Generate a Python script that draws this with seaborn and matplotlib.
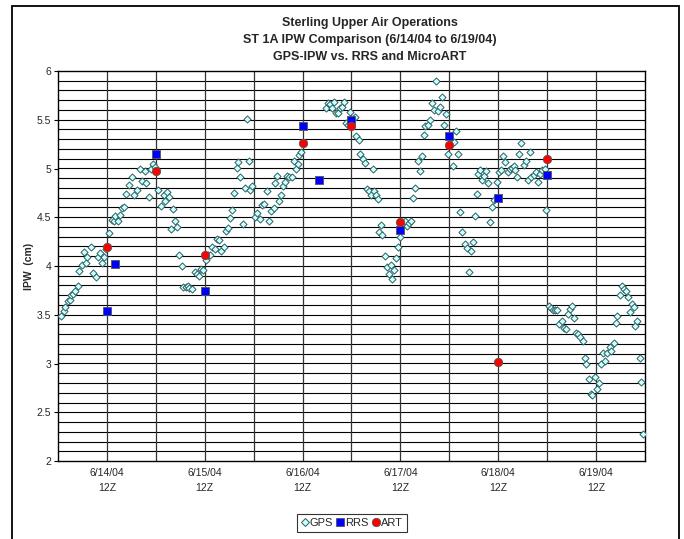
import matplotlib
matplotlib.use("Agg")
import matplotlib.pyplot as plt
import seaborn as sns
import pandas as pd
import numpy as np
from matplotlib.patches import Rectangle
from matplotlib.lines import Line2D

# ---------------- data ----------------
# hours after 6/14/04 00Z
gps_hours = [
    0.7, 1.4, 1.8, 2.4, 2.9, 3.3, 3.7, 4.2, 4.8, 5.2, 5.8, 6.3, 6.9, 7.2, 8.0, 8.7, 9.2, 9.7, 10.4, 10.8, 11.2, 11.8,
    12.6, 13.3, 13.8, 14.1, 14.7, 15.2, 15.7, 16.3, 16.8, 17.4, 18.1, 18.7, 19.4, 20.0, 20.7, 21.4, 21.7, 22.3, 22.7, 23.2, 23.8,
    24.5, 25.3, 25.9, 26.2, 26.8, 27.2, 27.7, 28.3, 28.8, 29.2, 29.8, 30.3, 30.7, 31.3, 31.8, 32.2, 32.9, 33.7, 34.1, 34.6, 35.2, 35.6,
    36.2, 36.7, 37.4, 37.9, 38.4, 39.0, 39.6, 40.1, 40.7, 41.1, 41.7, 42.2, 42.7, 43.2, 43.8, 44.2, 44.6, 45.3, 45.8, 46.4, 46.8, 47.2, 47.7,
    48.3, 48.8, 49.5, 50.0, 50.6, 51.2, 51.7, 52.3, 52.9, 53.3, 53.8, 54.3, 54.8, 55.3, 55.8, 56.2, 56.7, 57.3, 57.8, 58.3, 58.8, 59.2, 59.7, 60.2,
    65.8, 66.3, 66.8, 67.3, 67.8, 68.2, 68.7, 69.2, 69.7, 70.2, 70.7, 71.2, 71.7, 72.3, 72.8, 73.2, 73.8, 74.2, 74.7, 75.3, 75.8, 76.2, 76.8, 77.3, 77.6, 78.0, 78.4,
    78.8, 79.3, 79.6, 80.2, 80.7, 81.1, 81.6, 81.9, 82.4, 83.0, 83.5, 83.9, 84.6, 85.1, 85.6, 86.2, 86.7, 87.1, 87.7, 88.2,
    88.7, 89.3, 89.7, 90.1, 90.8, 91.2, 91.7, 92.3, 92.7, 93.2, 93.8, 94.3, 94.8, 95.2, 95.7, 96.2, 96.8, 97.2, 97.7, 98.2,
    98.7, 99.2, 99.8, 100.3, 100.8, 101.2, 101.7, 102.2, 102.7, 103.1, 103.6, 104.1, 104.5, 105.0, 105.4, 106.0, 106.5, 107.0, 107.6, 108.1,
    108.7, 109.2, 109.7, 110.3, 110.8, 111.3, 111.8, 112.2, 112.7, 113.2, 113.7, 114.2, 114.8, 115.2, 115.7, 116.1, 116.7, 117.2, 117.8, 118.3,
    118.8, 119.4, 119.8,
    120.5, 121.0, 121.5, 122.0, 122.5, 123.0, 123.6, 124.1, 124.6, 125.1, 125.7, 126.1, 126.6, 127.1, 127.6, 128.1, 128.7, 129.2, 129.6, 130.2,
    130.7, 131.1, 131.7, 132.2, 132.7, 133.2, 133.7, 134.2, 134.8, 135.3, 135.7, 136.3, 136.8, 137.2, 137.8, 138.3, 138.8, 139.3, 139.8, 140.2,
    140.7, 141.2, 141.6, 142.1, 142.7, 143.1, 143.6,
]
gps_ipw = [
    3.49, 3.54, 3.58, 3.64, 3.65, 3.70, 3.71, 3.74, 3.80, 3.95, 4.01, 4.14, 4.03, 4.09, 4.20, 3.93, 3.89, 4.09, 4.13, 4.03, 4.09, 4.17,
    4.34, 4.47, 4.46, 4.51, 4.46, 4.52, 4.60, 4.61, 4.74, 4.83, 4.91, 4.73, 4.78, 4.99, 4.87, 4.97, 4.85, 4.71, 5.00, 5.05, 5.02,
    4.78, 4.62, 4.73, 4.67, 4.76, 4.71, 4.38, 4.58, 4.46, 4.40, 4.11, 4.00, 3.78, 3.78, 3.80, 3.77, 3.76, 3.94, 3.92, 3.90, 3.97, 3.96,
    4.06, 4.11, 4.11, 4.20, 4.17, 4.28, 4.27, 4.15, 4.20, 4.36, 4.39, 4.49, 4.57, 4.75, 5.01, 5.07, 4.91, 4.43, 4.80, 5.51, 5.08, 4.78, 4.82,
    4.50, 4.54, 4.48, 4.63, 4.64, 4.77, 4.46, 4.56, 4.60, 4.85, 4.92, 4.67, 4.73, 4.82, 4.86, 4.92, 4.91, 4.91, 5.08, 4.99, 5.05, 5.14, 5.17, 5.25,
    5.62, 5.67, 5.66, 5.62, 5.68, 5.57, 5.57, 5.62, 5.63, 5.68, 5.47, 5.45, 5.58, 5.51, 5.53, 5.33, 5.29, 5.15, 5.10, 5.06, 4.79, 4.77, 4.73, 4.99, 4.77, 4.73, 4.69,
    4.35, 4.42, 4.32, 4.10, 3.99, 3.92, 4.01, 3.87, 3.96, 4.08, 4.19, 4.30, 4.44, 4.46, 4.41, 4.44, 4.46, 4.70, 4.80, 5.08,
    4.97, 5.13, 5.34, 5.44, 5.45, 5.50, 5.67, 5.60, 5.90, 5.59, 5.63, 5.73, 5.45, 5.56, 5.15, 5.26, 5.03, 5.27, 5.38, 5.15,
    4.55, 4.35, 4.23, 4.18, 3.94, 4.15, 4.25, 4.51, 4.74, 4.94, 4.98, 4.88, 4.92, 4.97, 4.85, 4.45, 4.61, 4.68, 4.86, 4.96,
    4.98, 5.13, 5.07, 4.96, 4.99, 5.01, 5.03, 4.98, 4.91, 5.15, 5.26, 5.04, 5.08, 4.88, 5.17, 4.91, 4.93, 4.96, 4.86, 4.94,
    4.98, 5.00, 4.57,
    3.59, 3.57, 3.55, 3.55, 3.55, 3.41, 3.44, 3.36, 3.35, 3.51, 3.56, 3.59, 3.47, 3.31, 3.30, 3.27, 3.23, 3.06, 2.99, 2.84,
    2.69, 2.68, 2.86, 2.74, 2.80, 3.00, 3.11, 3.03, 3.11, 3.17, 3.13, 3.21, 3.42, 3.49, 3.70, 3.79, 3.76, 3.74, 3.68, 3.53,
    3.61, 3.58, 3.38, 3.44, 3.06, 2.81, 2.28,
]
rrs_hours = [12, 14, 24, 36, 60, 64, 72, 84, 96, 108, 120]
rrs_ipw = [3.54, 4.02, 5.15, 3.74, 5.44, 4.88, 5.50, 4.37, 5.33, 4.70, 4.93]
art_hours = [12, 24, 36, 60, 72, 84, 96, 108, 120]
art_ipw = [4.20, 4.97, 4.11, 5.26, 5.44, 4.45, 5.24, 3.02, 5.10]

tick_hours = [12, 36, 60, 84, 108, 132]
tick_labels = ["6/14/04\n12Z", "6/15/04\n12Z", "6/16/04\n12Z", "6/17/04\n12Z", "6/18/04\n12Z", "6/19/04\n12Z"]
title_lines = ["Sterling Upper Air Operations",
               "ST 1A IPW Comparison (6/14/04 to 6/19/04)",
               "GPS-IPW vs. RRS and MicroART"]

gps = pd.DataFrame({"hours": gps_hours, "ipw": gps_ipw})
rrs = pd.DataFrame({"hours": rrs_hours, "ipw": rrs_ipw})
art = pd.DataFrame({"hours": art_hours, "ipw": art_ipw})

# ---------------- style ----------------
sns.set_style("white")
FAM = ["Liberation Sans Narrow", "Liberation Sans", "DejaVu Sans"]
plt.rcParams["font.family"] = FAM

W, H = 684, 539
fig = plt.figure(figsize=(W / 100, H / 100), dpi=100)
fig.patch.set_facecolor("white")

L, R, T, B = 58, 645, 71, 461
ax = fig.add_axes([L / W, 1 - B / H, (R - L) / W, (B - T) / H])
ax.set_facecolor("white")

# grid
for yv in np.arange(2.1, 6.0, 0.1):
    ax.axhline(yv, color="black", lw=0.8, zorder=1)
for xv in range(12, 144, 12):
    ax.axvline(xv, color="#333333", lw=0.9, zorder=1)

sns.scatterplot(data=gps, x="hours", y="ipw", ax=ax, marker="D", s=13,
                color="#CCFFFF", edgecolor="#2F5F5F", linewidth=0.7, zorder=3, legend=False)
sns.scatterplot(data=rrs, x="hours", y="ipw", ax=ax, marker="s", s=34,
                color="#0000FF", edgecolor="#555555", linewidth=0.6, zorder=4, legend=False)
sns.scatterplot(data=art, x="hours", y="ipw", ax=ax, marker="o", s=36,
                color="#FF0000", edgecolor="#555555", linewidth=0.6, zorder=5, legend=False)

ax.set_xlim(0, 144)
ax.set_ylim(2, 6)
ax.set_yticks(np.arange(2, 6.01, 0.5))
ax.set_yticklabels(["2", "2.5", "3", "3.5", "4", "4.5", "5", "5.5", "6"])
ax.set_xticks(tick_hours)
ax.set_xticklabels(tick_labels, linespacing=1.6)
ax.tick_params(axis="y", length=3, width=0.8, color="black", labelsize=7.5, pad=2, left=True)
ax.tick_params(axis="x", length=0, labelsize=7.5, pad=5)
ax.set_xlabel("")
ax.set_ylabel("IPW  (cm)", fontsize=7.5, fontweight="bold")
ax.yaxis.set_label_coords((34 - L) / (R - L), 0.5)
for sp in ax.spines.values():
    sp.set_color("black")
    sp.set_linewidth(1.0)
    sp.set_visible(True)

# title
for i, line in enumerate(title_lines):
    fig.text(370 / W, 1 - (23 + 17 * i) / H, line, ha="center", va="center",
             fontsize=9, fontweight="bold")

# legend
handles = [
    Line2D([], [], ls="none", marker="D", ms=3.6, mfc="#CCFFFF", mec="#2F5F5F", mew=0.7),
    Line2D([], [], ls="none", marker="s", ms=5.5, mfc="#0000FF", mec="#555555", mew=0.6),
    Line2D([], [], ls="none", marker="o", ms=6, mfc="#FF0000", mec="#555555", mew=0.6),
]
leg = fig.legend(handles, ["GPS", "RRS", "ART"], loc="center", ncol=3,
                 bbox_to_anchor=(352 / W, 1 - 523 / H), fontsize=8, frameon=True,
                 fancybox=False, edgecolor="black", handlelength=0.6, handletextpad=0.15,
                 columnspacing=0.35, borderpad=0.4, borderaxespad=0)
leg.get_frame().set_linewidth(0.8)

# outer chart border
fig.patches.append(Rectangle((12 / W, -0.05), (679 - 12) / W, 1 - 6 / H + 0.05,
                             transform=fig.transFigure, fill=False, edgecolor="black",
                             lw=1.3, zorder=0))

fig.savefig("out.png", dpi=100, facecolor="white")
